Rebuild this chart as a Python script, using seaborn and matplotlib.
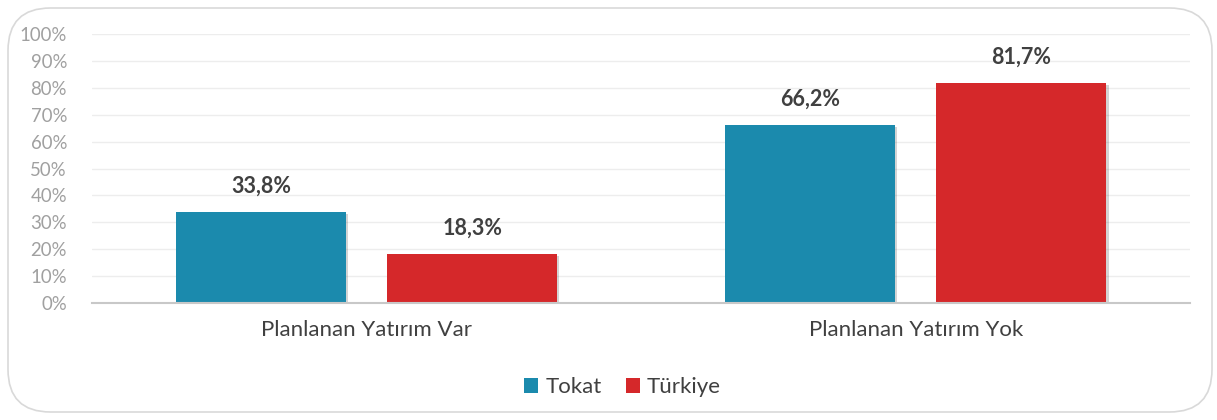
import matplotlib
matplotlib.use("Agg")
import matplotlib.pyplot as plt
import matplotlib.patheffects as pe
from matplotlib.patches import FancyBboxPatch, Patch
from matplotlib.ticker import FuncFormatter
import seaborn as sns
import pandas as pd

categories = ["Planlanan Yatırım Var", "Planlanan Yatırım Yok"]
series_names = ["Tokat", "Türkiye"]
tokat = [33.8, 66.2]
turkiye = [18.3, 81.7]
yticks = list(range(0, 101, 10))
colors = {"Tokat": "#1B8AAD", "Türkiye": "#D5282A"}

rows = []
for c, v in zip(categories, tokat):
    rows.append({"cat": c, "series": "Tokat", "val": v})
for c, v in zip(categories, turkiye):
    rows.append({"cat": c, "series": "Türkiye", "val": v})
df = pd.DataFrame(rows)

sns.set_theme(style="white")
plt.rcParams['font.family'] = ['Lato', 'DejaVu Sans']

fig = plt.figure(figsize=(12.17, 4.2), dpi=100)
ax = fig.add_axes([0.0756, 0.2786, 0.9024, 0.6404])

sns.barplot(data=df, x="cat", y="val", hue="series", order=categories,
            hue_order=series_names, palette=colors, width=0.769, gap=0.193,
            ax=ax, legend=False, saturation=1)

for p in ax.patches:
    p.set_linewidth(0)
    p.set_path_effects([pe.SimplePatchShadow(offset=(1.5, -1.5), alpha=0.25, shadow_rgbFace="#555555"), pe.Normal()])

for cont in ax.containers:
    labels = [f"{v:.1f}%".replace(".", ",") for v in cont.datavalues]
    ax.bar_label(cont, labels=labels, padding=11, fontsize=15.5, fontweight="bold", color="#404040")

ax.set_ylim(0, 100)
ax.set_xlim(-0.5, 1.5)
ax.set_yticks(yticks)
ax.yaxis.set_major_formatter(FuncFormatter(lambda v, p: f"{int(v)}%"))
ax.tick_params(axis="y", labelsize=13.4, labelcolor="#A0A0A0", length=0, pad=18)
ax.tick_params(axis="x", labelsize=16, labelcolor="#404040", length=0, pad=12)
ax.set_xlabel("")
ax.set_ylabel("")
ax.grid(axis="y", color="#EDEDED", linewidth=1)
ax.set_axisbelow(True)
for s in ["top", "right", "left"]:
    ax.spines[s].set_visible(False)
ax.spines["bottom"].set_color("#C8C8C8")
ax.spines["bottom"].set_linewidth(1.5)

handles = [Patch(facecolor=colors[s], edgecolor="none", label=s) for s in series_names]
fig.legend(handles=handles, loc="center", bbox_to_anchor=(0.5115, 0.078), ncol=2, frameon=False,
           fontsize=16, handlelength=0.65, handleheight=0.65, handletextpad=0.3, columnspacing=1.1,
           labelcolor="#404040")

border = FancyBboxPatch((8 / 1217, 8 / 420), 1204 / 1217, 404 / 420,
                        boxstyle="round,pad=0,rounding_size=0.035", transform=fig.transFigure,
                        facecolor="none", edgecolor="#D9D9D9", linewidth=1.2, mutation_aspect=1217 / 420)
fig.patches.append(border)

fig.savefig("out.png", dpi=100, facecolor="white")
